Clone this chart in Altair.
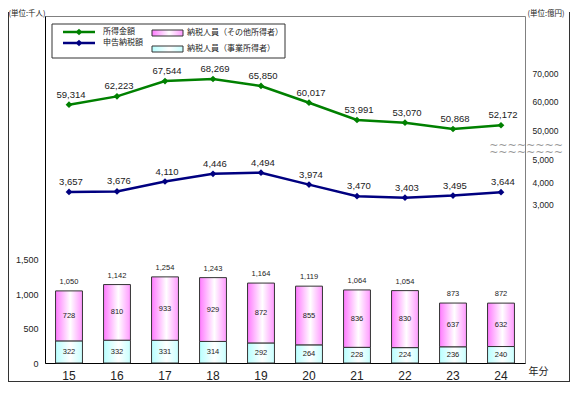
import altair as alt
import pandas as pd

# ---- data ----
years = ['15', '16', '17', '18', '19', '20', '21', '22', '23', '24']
income = [59314, 62223, 67544, 68269, 65850, 60017, 53991, 53070, 50868, 52172]   # 所得金額 (億円)
tax = [3657, 3676, 4110, 4446, 4494, 3974, 3470, 3403, 3495, 3644]                # 申告納税額 (億円)
biz = [322, 332, 331, 314, 292, 264, 228, 224, 236, 240]                          # 納税人員（事業所得者）
other = [728, 810, 933, 929, 872, 855, 836, 830, 637, 632]                        # 納税人員（その他所得者）
total = [1050, 1142, 1254, 1243, 1164, 1119, 1064, 1054, 873, 872]                # 合計

line_labels = ['所得金額', '申告納税額']
bar_labels = ['納税人員（その他所得者）', '納税人員（事業所得者）']
left_ticks = [0, 500, 1000, 1500]
income_ticks = [50000, 60000, 70000]
tax_ticks = [3000, 4000, 5000]

df = pd.DataFrame({'year': years, 'income': income, 'tax': tax,
                   'biz': biz, 'other': other, 'total': total})

W, H = 480, 347
NUM = 'Liberation Sans'
JP = 'Noto Sans CJK JP'
GREEN = '#008000'
NAVY = '#000080'
TXT = '#222222'

pink = alt.Gradient(gradient='linear', x1=0, x2=1, y1=0, y2=0,
                    stops=[alt.GradientStop(color='#FF7AFF', offset=0),
                           alt.GradientStop(color='#FFFFFF', offset=0.55),
                           alt.GradientStop(color='#FF99FF', offset=1)])
cyan = alt.Gradient(gradient='linear', x1=0, x2=1, y1=0, y2=0,
                    stops=[alt.GradientStop(color='#B8FFFF', offset=0),
                           alt.GradientStop(color='#FFFFFF', offset=0.55),
                           alt.GradientStop(color='#C8FFFF', offset=1)])

xscale = alt.Scale(type='band', paddingInner=0.44, paddingOuter=0.22)
x_main = alt.X('year:N', sort=years, scale=xscale,
               axis=alt.Axis(orient='bottom', labelFont=NUM, labelFontSize=12, labelColor=TXT,
                             labelPadding=7, ticks=False, domainColor='#000000', domainWidth=1,
                             grid=False, labelAngle=0,
                             title='年分', titleFont=JP, titleFontSize=10, titleFontWeight='normal',
                             titleColor=TXT, titleX=483, titleY=8, titleAlign='left',
                             titleBaseline='middle', titleAngle=0))
x_plain = alt.X('year:N', sort=years, axis=None)
# inward tick marks at the band boundaries (a top-oriented axis moved onto the bottom edge)
x_ticks = alt.X('year:N', sort=years,
                axis=alt.Axis(orient='top', offset=-H, labels=False, domain=False, ticks=True,
                              tickSize=3, tickBand='extent', tickColor='#000000', grid=False,
                              title=None))

base = alt.Chart(df)

yb_scale = alt.Scale(domain=[0, 5053], nice=False, zero=True)
inc_scale = alt.Scale(domain=[-30583, 90197], nice=False, zero=False)
tax_scale = alt.Scale(domain=[-3809, 11331], nice=False, zero=False)

y_bar = alt.Y('biz:Q', scale=yb_scale,
              axis=alt.Axis(orient='left', values=left_ticks, format=',.0f', labelFont=NUM,
                            labelFontSize=9, labelColor=TXT, ticks=False, labelPadding=7,
                            grid=False, domainColor='#000000',
                            title='(単位:千人)', titleFont=JP, titleFontSize=7.5,
                            titleFontWeight='normal', titleColor=TXT, titleAngle=0,
                            titleX=-37, titleY=-7, titleAlign='left', titleBaseline='top'))

bar_biz = base.mark_bar(fill=cyan, stroke='#333333', strokeWidth=1).encode(x=x_main, y=y_bar)
bar_other = base.mark_bar(fill=pink, stroke='#333333', strokeWidth=1).encode(
    x=x_plain, y=alt.Y('biz:Q', scale=yb_scale, axis=None), y2='total:Q')

t_biz = base.transform_calculate(m='datum.biz / 2').mark_text(
    font=NUM, fontSize=7.5, color=TXT, baseline='middle').encode(
    x=x_plain, y=alt.Y('m:Q', scale=yb_scale, axis=None), text=alt.Text('biz:Q', format=','))
t_other = base.transform_calculate(m='(datum.biz + datum.total) / 2').mark_text(
    font=NUM, fontSize=7.5, color=TXT, baseline='middle').encode(
    x=x_plain, y=alt.Y('m:Q', scale=yb_scale, axis=None), text=alt.Text('other:Q', format=','))
t_total = base.mark_text(font=NUM, fontSize=7.5, color=TXT, baseline='middle', dy=-9).encode(
    x=x_plain, y=alt.Y('total:Q', scale=yb_scale, axis=None),
    text=alt.Text('total:Q', format=','))

right_axis_common = dict(orient='right', format=',.0f', labelFont=NUM, labelFontSize=8.5,
                         labelColor=TXT, ticks=False, labelPadding=7, domain=False, grid=False)

green_line = base.mark_line(color=GREEN, strokeWidth=2.5).encode(
    x=x_ticks,
    y=alt.Y('income:Q', scale=inc_scale,
            axis=alt.Axis(values=income_ticks, title='(単位:億円)', titleFont=JP,
                          titleFontSize=7.5, titleFontWeight='normal', titleColor=TXT,
                          titleAngle=0, titleX=2, titleY=-7, titleAlign='left',
                          titleBaseline='top', labelOffset=-1, **right_axis_common)))
green_pts = base.mark_point(shape='diamond', filled=True, size=45, color=GREEN, opacity=1).encode(
    x=x_plain, y=alt.Y('income:Q', scale=inc_scale, axis=None))
green_text = base.mark_text(font=NUM, fontSize=9.5, color=TXT, dy=-10, dx=2,
                            baseline='middle').encode(
    x=x_plain, y=alt.Y('income:Q', scale=inc_scale, axis=None),
    text=alt.Text('income:Q', format=','))

blue_line = base.mark_line(color=NAVY, strokeWidth=2.5).encode(
    x=x_plain,
    y=alt.Y('tax:Q', scale=tax_scale,
            axis=alt.Axis(values=tax_ticks, title=None, labelOffset=-2, **right_axis_common)))
blue_pts = base.mark_point(shape='diamond', filled=True, size=45, color=NAVY, opacity=1).encode(
    x=x_plain, y=alt.Y('tax:Q', scale=tax_scale, axis=None))
blue_text = base.mark_text(font=NUM, fontSize=9.5, color=TXT, dy=-10, dx=2,
                           baseline='middle').encode(
    x=x_plain, y=alt.Y('tax:Q', scale=tax_scale, axis=None),
    text=alt.Text('tax:Q', format=','))

# ---- legend (drawn as a box with sample marks) ----
one = alt.Chart(alt.Data(values=[{'k': 0}]))
leg_box = one.mark_rect(fill='white', stroke='#333333', strokeWidth=1).encode(
    x=alt.value(7), x2=alt.value(240), y=alt.value(8), y2=alt.value(42))
leg_items = []
for i, (lab, col) in enumerate(zip(line_labels, [GREEN, NAVY])):
    yy = 16 + 11 * i
    leg_items.append(one.mark_rule(color=col, strokeWidth=2.5).encode(
        x=alt.value(18), x2=alt.value(50), y=alt.value(yy)))
    leg_items.append(one.mark_point(shape='diamond', filled=True, size=45, color=col,
                                    opacity=1).encode(x=alt.value(34), y=alt.value(yy)))
    leg_items.append(one.mark_text(font=JP, fontSize=8, color=TXT, align='left',
                                   baseline='middle').encode(
        x=alt.value(58), y=alt.value(yy), text=alt.value(lab)))
for i, (lab, fillg) in enumerate(zip(bar_labels, [pink, cyan])):
    y0 = 14 + 16 * i
    leg_items.append(one.mark_rect(fill=fillg, stroke='#333333', strokeWidth=1).encode(
        x=alt.value(107), x2=alt.value(138), y=alt.value(y0), y2=alt.value(y0 + 6)))
    leg_items.append(one.mark_text(font=JP, fontSize=8, color=TXT, align='left',
                                   baseline='middle').encode(
        x=alt.value(142), y=alt.value(y0 + 3), text=alt.value(lab)))

# ---- scale-break marks on the right axis (one two-line text) ----
waves = one.mark_text(font='DejaVu Sans', fontSize=11, lineHeight=7, color='#999999',
                      align='center', baseline='middle').encode(
    x=alt.value(481), y=alt.value(129.5), text=alt.value(['~~~~~~~~', '~~~~~~~~']))

# ---- outer frame of the figure ----
frame = [
    one.mark_rule(color='#333333', strokeWidth=1).encode(
        x=alt.value(-36.5), y=alt.value(-4), y2=alt.value(366)),
    one.mark_rule(color='#333333', strokeWidth=1).encode(
        x=alt.value(524.5), y=alt.value(-4), y2=alt.value(366)),
    one.mark_rule(color='#333333', strokeWidth=1).encode(
        x=alt.value(-36.5), x2=alt.value(524.5), y=alt.value(365.5)),
]

chart = alt.layer(
    bar_biz, bar_other, t_biz, t_other, t_total,
    green_line, green_pts, green_text,
    blue_line, blue_pts, blue_text,
    leg_box, *leg_items, waves, *frame,
).resolve_scale(y='independent').resolve_axis(x='independent', y='independent').properties(
    width=W, height=H,
    padding={'left': 0, 'top': 1, 'right': 0, 'bottom': 0},
    background='white',
).configure_view(stroke='#808080', strokeWidth=1)

chart.save('out.html', embed_options={'renderer': 'svg', 'actions': False})
